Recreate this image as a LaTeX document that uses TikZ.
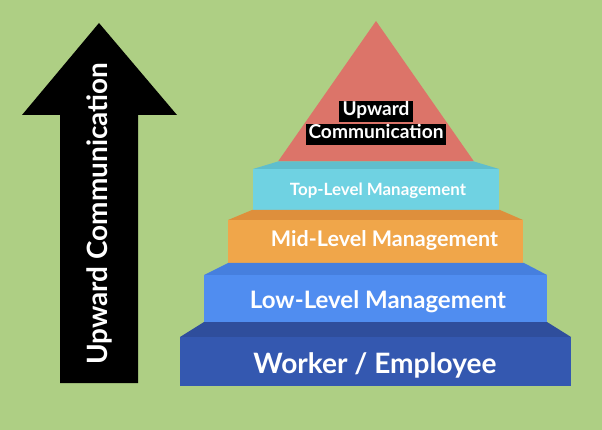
\documentclass[tikz,border=0pt]{standalone}
\usepackage{fontspec}
\setmainfont{Lato}
\usepackage{graphicx}
\definecolor{bg}{HTML}{AECF84}
\definecolor{tri}{HTML}{DC7469}
\definecolor{cyF}{HTML}{6FD2E2}
\definecolor{cyT}{HTML}{5FBECD}
\definecolor{orF}{HTML}{F0A64A}
\definecolor{orT}{HTML}{DE8F3C}
\definecolor{lbF}{HTML}{508DF0}
\definecolor{lbT}{HTML}{467FDE}
\definecolor{dbF}{HTML}{3458B0}
\definecolor{dbT}{HTML}{2F4E9C}
\newcommand{\fitw}[2]{\resizebox{#1pt}{!}{\bfseries #2}}
\begin{document}
\begin{tikzpicture}[x=1pt,y=-1pt,
  lbl/.style={text=white, inner sep=0pt},
  boxlbl/.style={fill=black, text=white, inner sep=0pt, minimum height=21pt},
  face/.style={draw=none}]
\path[fill=bg,use as bounding box] (0,0) rectangle (602,430);
% arrow
\fill[black] (99,23) -- (177,115) -- (138,115) -- (138,383) -- (60,383) -- (60,115) -- (22,115) -- cycle;
\node[lbl, rotate=90, anchor=base west] (arrtxt) at (107,365) {\fitw{302}{Upward Communication}};
% triangle
\fill[tri] (376,21) -- (474,161.5) -- (278,161.5) -- cycle;
\node[boxlbl, minimum width=74pt] (b1) at (376,111.5) {};
\node[lbl, anchor=base] (t1) at (376,116) {\fitw{67}{Upward}};
\node[boxlbl, minimum width=140pt] (b2) at (376,134.5) {};
\node[lbl, anchor=base] (t2) at (376,139) {\fitw{135}{Communication}};
% top-level
\fill[cyT] (278,161.5) -- (474,161.5) -- (499,169) -- (253,169) -- cycle;
\fill[cyF] (253,169) rectangle (499,210);
\node[lbl, anchor=base] (top) at (378,196) {\fitw{176}{Top-Level Management}};
% mid-level
\fill[orT] (252,210) -- (500,210) -- (523,220) -- (228,220) -- cycle;
\fill[orF] (228,220) rectangle (523,263);
\node[lbl, anchor=base] (mid) at (384.5,247) {\fitw{227}{Mid-Level Management}};
% low-level
\fill[lbT] (228,263) -- (524,263) -- (547,275) -- (204,275) -- cycle;
\fill[lbF] (204,275) rectangle (547,322);
\node[lbl, anchor=base] (low) at (378,308) {\fitw{256}{Low-Level Management}};
% worker
\fill[dbT] (204,322) -- (547,322) -- (571,337) -- (180,337) -- cycle;
\fill[dbF] (180,337) rectangle (571,386);
\node[lbl, anchor=base] (wrk) at (375,373) {\fitw{243}{Worker / Employee}};
\end{tikzpicture}
\end{document}
